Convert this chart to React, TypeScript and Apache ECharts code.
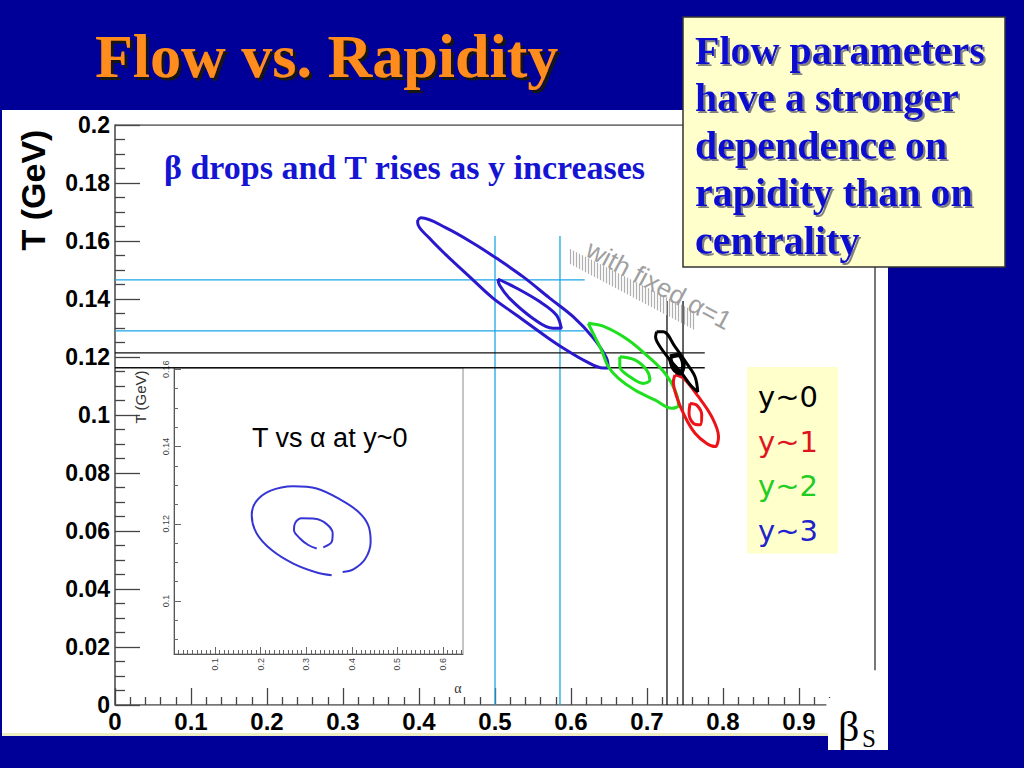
import React, { useEffect, useRef } from "react";
import * as echarts from "echarts";

// ---------------- texts ----------------
const TITLE = "Flow vs. Rapidity";
const NOTE_LINES = ["Flow parameters", "have a stronger", "dependence on", "rapidity than on", "centrality"];
const SUBTITLE = "β drops and T rises as y increases";
const FIXED_ALPHA = "with fixed α=1";
const INSET_TITLE = "T vs α at y~0";
const Y_TITLE = "T (GeV)";
const INSET_Y_TITLE = "T (GeV)";
const INSET_X_TITLE = "α";

// ---------------- axes ----------------
const X_MAJOR = [0, 0.1, 0.2, 0.3, 0.4, 0.5, 0.6, 0.7, 0.8, 0.9];
const INSET_X_MAJOR = [0.1, 0.2, 0.3, 0.4, 0.5, 0.6];
const INSET_Y_MAJOR = [0.1, 0.12, 0.14, 0.16];

// ---------------- series ----------------
const RAPIDITY = ["y~0", "y~1", "y~2", "y~3"];
const RAPIDITY_COLORS = ["#000000", "#EC1218", "#1EE01E", "#2A18CC"];
const LEGEND_COLORS = ["#000000", "#E0141E", "#22CC22", "#2222CC"];

const y0Outer = [[0.7127, 0.1287], [0.7215, 0.1287], [0.7368, 0.1236], [0.7522, 0.1178], [0.7632, 0.1132], [0.7668, 0.108], [0.7588, 0.1098], [0.7456, 0.1144], [0.7302, 0.119], [0.717, 0.1236], [0.7113, 0.127]];
const y0Inner = [[0.7302, 0.1201], [0.7413, 0.1207], [0.7479, 0.1172], [0.7434, 0.1144], [0.7347, 0.1161]];
const y1Outer = [[0.7368, 0.1138], [0.7479, 0.1127], [0.7677, 0.1063], [0.7852, 0.0994], [0.7941, 0.0925], [0.7896, 0.0891], [0.7786, 0.0902], [0.7632, 0.0937], [0.75, 0.0994], [0.739, 0.1063], [0.7347, 0.1115]];
const y1Inner = [[0.7566, 0.104], [0.7654, 0.1034], [0.772, 0.1], [0.7698, 0.0966], [0.7611, 0.0971], [0.7553, 0.1006]];
const y2Outer = [[0.6226, 0.1316], [0.6445, 0.1304], [0.6753, 0.1259], [0.7017, 0.1201], [0.7236, 0.1144], [0.7368, 0.1086], [0.7413, 0.1034], [0.7325, 0.1023], [0.7104, 0.1052], [0.684, 0.1086], [0.6621, 0.1127], [0.6489, 0.1167], [0.6401, 0.1224], [0.6313, 0.127]];
const y2Inner = [[0.6642, 0.1201], [0.684, 0.119], [0.6995, 0.1155], [0.7038, 0.1121], [0.6951, 0.1109], [0.6774, 0.1132], [0.6642, 0.1167]];
const y3Outer = [[0.3983, 0.1672], [0.4026, 0.168], [0.4356, 0.1645], [0.4708, 0.1593], [0.5016, 0.1541], [0.5368, 0.1477], [0.5719, 0.1403], [0.6028, 0.1339], [0.6292, 0.1266], [0.6467, 0.1197], [0.6489, 0.1162], [0.6423, 0.1162], [0.6203, 0.1184], [0.5896, 0.1231], [0.5675, 0.127], [0.528, 0.1345], [0.4972, 0.1403], [0.4664, 0.1477], [0.4356, 0.1552], [0.4136, 0.161], [0.3983, 0.1662]];
const y3Inner = [[0.5038, 0.1469], [0.528, 0.1438], [0.5587, 0.1391], [0.5807, 0.1345], [0.5873, 0.1299], [0.5764, 0.1299], [0.55, 0.1333], [0.5191, 0.1402], [0.5059, 0.1448]];

// inset: T vs alpha at y~0 (open contours, small gap at bottom)
const insetOuter = [[0.38, 0.1075], [0.4033, 0.1082], [0.4289, 0.1108], [0.4414, 0.1153], [0.4362, 0.1196], [0.4143, 0.1231], [0.3741, 0.1263], [0.323, 0.1291], [0.2717, 0.1297], [0.2206, 0.1285], [0.1899, 0.1257], [0.1805, 0.1222], [0.1914, 0.1175], [0.2243, 0.1132], [0.2717, 0.1097], [0.323, 0.1074], [0.3559, 0.1067]];
const insetInner = [[0.3375, 0.1139], [0.3559, 0.1153], [0.3581, 0.1175], [0.345, 0.1199], [0.3193, 0.1213], [0.2901, 0.1214], [0.2754, 0.1201], [0.2732, 0.1184], [0.2864, 0.1162], [0.3046, 0.1145], [0.323, 0.1136]];

// reference lines
const CYAN_BETA = [0.5, 0.5855];
const CYAN_BETA_TOP = 0.1617;
const CYAN_T = [0.1466, 0.129];
const CYAN_T_END = 0.618;
const BLACK_BETA = [0.7263, 0.7474];
const BLACK_BETA_TOP = 0.1393;
const BLACK_T = [0.1214, 0.1163];
const BLACK_T_END = 0.776;

const SERIF = '"Liberation Serif", "Times New Roman", serif';
const SANS = '"Liberation Sans", Arial, sans-serif';
const DEJAVU = '"DejaVu Sans", sans-serif';

function tickList(from: number, to: number, step: number, skipEvery: number, offset: number) {
  const out: number[] = [];
  let i = 0;
  for (let v = from; v <= to + 1e-9; v += step, i++) {
    if ((i + offset) % skipEvery !== 0) out.push(Math.round(v * 10000) / 10000);
  }
  return out;
}

function txt(text: string, x: number, y: number, o: any) {
  const style: any = {
    text,
    fill: o.fill ?? "#000",
    fontSize: o.size,
    fontWeight: o.weight ?? "normal",
    fontFamily: o.family ?? SANS,
    align: o.align ?? "left",
    textAlign: o.align ?? "left",
    verticalAlign: "middle",
    textVerticalAlign: "middle",
  };
  if (o.shadow) {
    style.textShadowColor = o.shadow;
    style.textShadowOffsetX = o.shadowOff ?? 2;
    style.textShadowOffsetY = o.shadowOff ?? 2;
    style.textShadowBlur = 1;
  }
  return { type: "text", x, y, z: o.z ?? 50, rotation: o.rotation ?? 0, silent: true, style };
}

function contour(name: string, color: string, pts: number[][], width: number, closed = true, axis = 0) {
  return {
    type: "line",
    name,
    xAxisIndex: axis === 0 ? 0 : 2,
    yAxisIndex: axis === 0 ? 0 : 1,
    data: closed ? [...pts, pts[0]] : pts,
    smooth: 0.35,
    symbol: "none",
    silent: true,
    z: 4,
    lineStyle: { color, width },
    itemStyle: { color },
  };
}

function segment(name: string, a: number[], b: number[], color: string, width: number, type: any = "solid", z = 3) {
  return {
    type: "line",
    name,
    xAxisIndex: 0,
    yAxisIndex: 0,
    data: [a, b],
    symbol: "none",
    silent: true,
    z,
    lineStyle: { color, width, type },
  };
}

function buildOption() {
  const xMinor = tickList(0, 0.94, 0.02, 5, 0);
  const insetXMinor = tickList(0.02, 0.64, 0.01, 10, 2);
  const insetYMinor = tickList(0.09, 0.155, 0.005, 4, 2);

  const series: any[] = [];
  // frame
  series.push(segment("frame", [0, 0], [0.936, 0], "#4a4a4a", 1.5));
  series.push(segment("frame", [0.945, 0], [1, 0], "#4a4a4a", 1.5, [2, 6]));
  series.push(segment("frame", [1, 0.012], [1, 0.2], "#4a4a4a", 1.5));
  series.push(segment("frame", [0, 0.2], [1, 0.2], "#4a4a4a", 1.5));
  // reference lines
  CYAN_BETA.forEach((b) => series.push(segment("ref", [b, 0], [b, CYAN_BETA_TOP], "#1BA6E6", 1.3)));
  CYAN_T.forEach((t) => series.push(segment("ref", [0, t], [CYAN_T_END, t], "#1BA6E6", 1.3)));
  BLACK_BETA.forEach((b) => series.push(segment("ref", [b, 0], [b, BLACK_BETA_TOP], "#111", 1.3)));
  BLACK_T.forEach((t) => series.push(segment("ref", [0, t], [BLACK_T_END, t], "#111", 1.3)));
  // contours
  series.push(contour(RAPIDITY[3], RAPIDITY_COLORS[3], y3Outer, 3));
  series.push(contour(RAPIDITY[3], RAPIDITY_COLORS[3], y3Inner, 3));
  series.push(contour(RAPIDITY[2], RAPIDITY_COLORS[2], y2Outer, 3));
  series.push(contour(RAPIDITY[2], RAPIDITY_COLORS[2], y2Inner, 3));
  series.push(contour(RAPIDITY[1], RAPIDITY_COLORS[1], y1Outer, 3));
  series.push(contour(RAPIDITY[1], RAPIDITY_COLORS[1], y1Inner, 3));
  series.push(contour(RAPIDITY[0], RAPIDITY_COLORS[0], y0Outer, 3));
  series.push(contour(RAPIDITY[0], RAPIDITY_COLORS[0], y0Inner, 4.5));
  // inset
  series.push(contour("inset", "#3535D5", insetOuter, 2, false, 1));
  series.push(contour("inset", "#3535D5", insetInner, 2, false, 1));

  // striped "3D" band under the annotation (decoration)
  const hatch: any[] = [];
  for (let i = 0; i <= 41; i++) {
    const x = 570.5 + i * 3;
    hatch.push({
      type: "line",
      silent: true,
      z: 20,
      shape: { x1: x, y1: 249 + (x - 570) * 0.5, x2: x, y2: 264 + (x - 570) * 0.53 },
      style: { stroke: "#b0b0b0", lineWidth: 1.2 },
    });
  }

  const elements: any[] = [
    { type: "rect", z: -100, silent: true, shape: { x: 2, y: 110, width: 886, height: 626 }, style: { fill: "#ffffff" } },
    { type: "rect", z: -99, silent: true, shape: { x: 2, y: 733, width: 826, height: 3 }, style: { fill: "#EDEDC4" } },
    // title
    txt(TITLE, 95, 56, { size: 62, weight: "bold", family: SERIF, fill: "#FF8C1A", shadow: "#151515", shadowOff: 3, z: 101 }),
    // note box
    { type: "rect", z: 100, silent: true, shape: { x: 683, y: 17, width: 322, height: 250 }, style: { fill: "#FFFFCC", stroke: "#333", lineWidth: 1.5 } },
    ...NOTE_LINES.map((l, i) => txt(l, 695, 50 + i * 47.5, { size: 40, weight: "bold", family: SERIF, fill: "#0A0ACF", shadow: "#808080", shadowOff: 2, z: 102 })),
    // subtitle
    txt(SUBTITLE, 164, 167, { size: 34, weight: "bold", family: SERIF, fill: "#1414D2", z: 60 }),
    // y title
    txt(Y_TITLE, 33, 190, { size: 34, weight: "bold", family: SANS, fill: "#000", rotation: Math.PI / 2, align: "center", z: 60 }),
    // fixed alpha annotation
    ...hatch,
    txt(FIXED_ALPHA, 659, 285, { size: 26, family: SANS, fill: "#a0a0a0", rotation: -0.489, align: "center", z: 21 }),
    // inset texts
    txt(INSET_TITLE, 252, 438, { size: 27, family: SANS, fill: "#000", z: 60 }),
    txt(INSET_Y_TITLE, 140, 397, { size: 15, family: SANS, fill: "#333", rotation: Math.PI / 2, align: "center", z: 60 }),
    txt(INSET_X_TITLE, 458, 688, { size: 14, family: SERIF, fill: "#333", align: "center", z: 60 }),
    // beta_S box
    { type: "rect", z: 60, silent: true, shape: { x: 828, y: 698, width: 60, height: 52 }, style: { fill: "#ffffff" } },
    txt("β", 838, 727, { size: 42, family: SERIF, fill: "#000", z: 61 }),
    txt("S", 862, 738, { size: 25, family: SERIF, fill: "#000", z: 61 }),
  ];

  const tickLine = { color: "#444", width: 1.3 };
  const insetTickLine = { color: "#666", width: 1 };

  return {
    animation: false,
    backgroundColor: "#000099",
    grid: [
      { left: 115, top: 125, width: 760, height: 580, show: false },
      { left: 174, top: 368, width: 289, height: 286, show: true, backgroundColor: "#ffffff", borderColor: "#8a8a8a", borderWidth: 1 },
    ],
    xAxis: [
      {
        gridIndex: 0, type: "value", min: 0, max: 1, interval: 0.1,
        axisLine: { show: false },
        splitLine: { show: false },
        axisTick: { inside: true, length: 17, customValues: X_MAJOR, lineStyle: tickLine },
        axisLabel: { customValues: X_MAJOR, fontSize: 24, fontWeight: "bold", fontFamily: SANS, color: "#000", margin: 4 },
      },
      {
        gridIndex: 0, type: "value", min: 0, max: 1, position: "bottom",
        axisLine: { show: false },
        splitLine: { show: false },
        axisTick: { inside: true, length: 8, customValues: xMinor, lineStyle: tickLine },
        axisLabel: { show: false },
      },
      {
        gridIndex: 1, type: "value", min: 0.01, max: 0.644, position: "bottom",
        axisLine: { show: true, lineStyle: { color: "#555", width: 1 } },
        splitLine: { show: false },
        axisTick: { inside: true, length: 7, customValues: INSET_X_MAJOR, lineStyle: insetTickLine },
        axisLabel: { customValues: INSET_X_MAJOR, rotate: 90, fontSize: 9, fontFamily: SANS, color: "#444", margin: 4 },
      },
      {
        gridIndex: 1, type: "value", min: 0.01, max: 0.644, position: "bottom",
        axisLine: { show: false },
        splitLine: { show: false },
        axisTick: { inside: true, length: 4, customValues: insetXMinor, lineStyle: insetTickLine },
        axisLabel: { show: false },
      },
    ],
    yAxis: [
      {
        gridIndex: 0, type: "value", min: 0, max: 0.2, interval: 0.02,
        axisLine: { show: true, lineStyle: { color: "#444", width: 1.5 } },
        splitLine: { show: false },
        axisTick: { inside: true, length: 25, lineStyle: tickLine },
        minorTick: { show: true, splitNumber: 4, length: 10, lineStyle: tickLine },
        minorSplitLine: { show: false },
        axisLabel: { fontSize: 23, fontWeight: "bold", fontFamily: SANS, color: "#000", margin: 5, formatter: (v: number) => String(Math.round(v * 100) / 100) },
      },
      {
        gridIndex: 1, type: "value", min: 0.0863, max: 0.1603, position: "left",
        axisLine: { show: true, lineStyle: { color: "#555", width: 1 } },
        splitLine: { show: false },
        axisTick: { inside: true, length: 7, customValues: INSET_Y_MAJOR, lineStyle: insetTickLine },
        axisLabel: { customValues: INSET_Y_MAJOR, rotate: 90, fontSize: 9, fontFamily: SANS, color: "#444", margin: 4 },
      },
      {
        gridIndex: 1, type: "value", min: 0.0863, max: 0.1603, position: "left",
        axisLine: { show: false },
        splitLine: { show: false },
        axisTick: { inside: true, length: 4, customValues: insetYMinor, lineStyle: insetTickLine },
        axisLabel: { show: false },
      },
    ],
    legend: {
      orient: "vertical",
      left: 747,
      top: 367,
      padding: [15, 20, 8, 6],
      itemGap: 14.5,
      itemWidth: 0,
      itemHeight: 0,
      icon: "rect",
      itemStyle: { opacity: 0 },
      selectedMode: false,
      backgroundColor: "#FFFFCC",
      textStyle: { fontSize: 29, fontFamily: DEJAVU, lineHeight: 30 },
      data: RAPIDITY.map((n, i) => ({ name: n, textStyle: { color: LEGEND_COLORS[i] } })),
    },
    series,
    graphic: { elements },
  };
}

export default function App() {
  const ref = useRef<HTMLDivElement>(null);
  useEffect(() => {
    const chart = echarts.init(ref.current as HTMLDivElement, null, { renderer: "svg" });
    chart.setOption(buildOption() as any);
    return () => chart.dispose();
  }, []);
  return <div ref={ref} style={{ position: "fixed", left: 0, top: 0, width: 1024, height: 768 }} />;
}
